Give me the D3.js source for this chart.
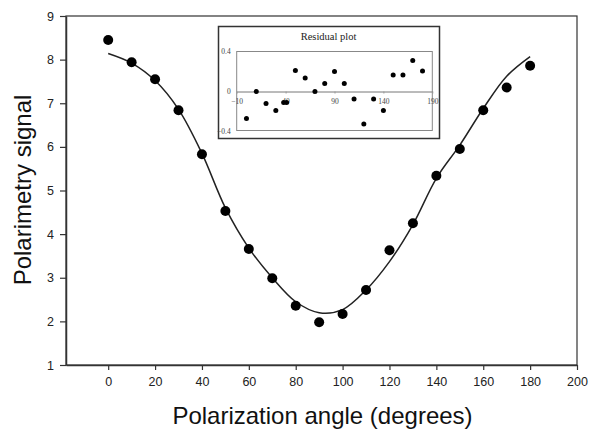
<!DOCTYPE html>
<html>
<head>
<meta charset="utf-8">
<script src="https://cdn.jsdelivr.net/npm/d3@7"></script>
<style>
  html, body { margin: 0; padding: 0; background: #fff; }
  svg { display: block; }
</style>
</head>
<body>
<svg id="chart" width="589" height="430"></svg>
<script>
// ---- data ----
const angles = [0, 10, 20, 30, 40, 50, 60, 70, 80, 90, 100, 110, 120, 130, 140, 150, 160, 170, 180];
const signal = [8.45, 7.94, 7.55, 6.84, 5.83, 4.53, 3.66, 2.99, 2.36, 1.98, 2.17, 2.72, 3.63, 4.25, 5.34, 5.95, 6.84, 7.36, 7.86];
const fitAngles = [0, 10, 20, 30, 40, 50, 60, 70, 80, 90, 100, 110, 120, 130, 140, 150, 160, 170, 180];
const fitSignal = [8.14, 7.92, 7.52, 6.86, 5.85, 4.6, 3.68, 3.0, 2.45, 2.2, 2.27, 2.72, 3.37, 4.22, 5.28, 6.04, 6.88, 7.62, 8.07];
const xTicks = [0, 20, 40, 60, 80, 100, 120, 140, 160, 180, 200];
const yTicks = [1, 2, 3, 4, 5, 6, 7, 8, 9];

const resAngles = [0, 10, 20, 30, 38, 41, 50, 60, 70, 80, 90, 100, 110, 120, 130, 140, 150, 160, 170, 180];
const residuals = [-0.27, 0.0, -0.12, -0.19, -0.11, -0.11, 0.21, 0.135, 0.0, 0.08, 0.2, 0.08, -0.075, -0.325, -0.075, -0.19, 0.165, 0.165, 0.31, 0.205];
const resXTicks = [-10, 40, 90, 140, 190];
const resYTicks = [-0.4, 0, 0.4];

// ---- main chart ----
const svg = d3.select("#chart");
const x = d3.scaleLinear().domain([-18, 200]).range([66, 577]);
const y = d3.scaleLinear().domain([1, 9]).range([365, 16]);
const axisColor = "#333";
const font = "'Liberation Sans', Arial, sans-serif";

// frame (top & right)
svg.append("rect")
  .attr("x", x(-18)).attr("y", y(9))
  .attr("width", x(200) - x(-18)).attr("height", y(1) - y(9))
  .attr("fill", "none").attr("stroke", axisColor).attr("stroke-width", 1.2);

const xAxis = svg.append("g")
  .attr("transform", `translate(0,${y(1)})`)
  .call(d3.axisBottom(x).tickValues(xTicks).tickSize(5).tickPadding(7).tickSizeOuter(0));
const yAxis = svg.append("g")
  .attr("transform", `translate(${x(-18)},0)`)
  .call(d3.axisLeft(y).tickValues(yTicks).tickSize(6).tickPadding(6).tickSizeOuter(0));
[xAxis, yAxis].forEach(g => {
  g.select(".domain").attr("stroke", axisColor).attr("stroke-width", 1.5);
  g.selectAll(".tick line").attr("stroke", axisColor).attr("stroke-width", 1.2);
  g.selectAll(".tick text").attr("fill", "#222").style("font-family", font).style("font-size", "12.5px");
});

// fit curve
svg.append("path")
  .datum(fitAngles.map((a, i) => [a, fitSignal[i]]))
  .attr("fill", "none").attr("stroke", "#222").attr("stroke-width", 1.5)
  .attr("d", d3.line().x(d => x(d[0])).y(d => y(d[1])).curve(d3.curveCatmullRom.alpha(0.5)));

// data points
svg.append("g").selectAll("circle")
  .data(angles.map((a, i) => [a, signal[i]]))
  .join("circle")
  .attr("cx", d => x(d[0])).attr("cy", d => y(d[1])).attr("r", 5).attr("fill", "#000");

// axis titles
svg.append("text")
  .attr("x", (x(-18) + x(200)) / 2 + 1).attr("y", 424)
  .attr("text-anchor", "middle").style("font-family", font).style("font-size", "24px").attr("fill", "#111")
  .text("Polarization angle (degrees)");
svg.append("text")
  .attr("transform", "translate(31,190) rotate(-90)")
  .attr("text-anchor", "middle").style("font-family", font).style("font-size", "24px").attr("fill", "#111")
  .text("Polarimetry signal");

// ---- inset residual plot ----
const serif = "'Liberation Serif', 'Times New Roman', serif";
svg.append("rect")
  .attr("x", 218.5).attr("y", 26.5).attr("width", 221).attr("height", 112)
  .attr("fill", "#fff").attr("stroke", "#333").attr("stroke-width", 1.5);

const rx = d3.scaleLinear().domain([-10, 190]).range([236.7, 432.3]);
const ry = d3.scaleLinear().domain([-0.4, 0.4]).range([131.5, 51.5]);

svg.append("rect")
  .attr("x", rx(-10)).attr("y", ry(0.4))
  .attr("width", rx(190) - rx(-10)).attr("height", ry(-0.4) - ry(0.4) - 1)
  .attr("fill", "none").attr("stroke", "#888").attr("stroke-width", 1);

svg.append("text")
  .attr("x", 328.5).attr("y", 40).attr("text-anchor", "middle")
  .style("font-family", serif).style("font-size", "10.5px").attr("fill", "#222")
  .text("Residual plot");

// zero line with x ticks
const rxAxis = svg.append("g")
  .attr("transform", `translate(0,${ry(0)})`)
  .call(d3.axisBottom(rx).tickValues(resXTicks).tickSize(2).tickPadding(5).tickSizeOuter(0));
rxAxis.attr("color", "#444");
rxAxis.select(".domain").attr("stroke", "#777").attr("stroke-width", 1);
rxAxis.selectAll(".tick line").attr("stroke", "#999");
rxAxis.selectAll(".tick text").style("font-family", serif).style("font-size", "7.5px");

const ryAxis = svg.append("g")
  .attr("transform", `translate(${rx(-10)},0)`)
  .call(d3.axisLeft(ry).tickValues(resYTicks).tickSize(0).tickPadding(6).tickFormat(d3.format(".1~f")));
ryAxis.attr("color", "#444");
ryAxis.select(".domain").remove();
ryAxis.selectAll(".tick text").style("font-family", serif).style("font-size", "7.5px");

svg.append("g").selectAll("circle")
  .data(resAngles.map((a, i) => [a, residuals[i]]))
  .join("circle")
  .attr("cx", d => rx(d[0])).attr("cy", d => ry(d[1])).attr("r", 2.5).attr("fill", "#000");
</script>
</body>
</html>
